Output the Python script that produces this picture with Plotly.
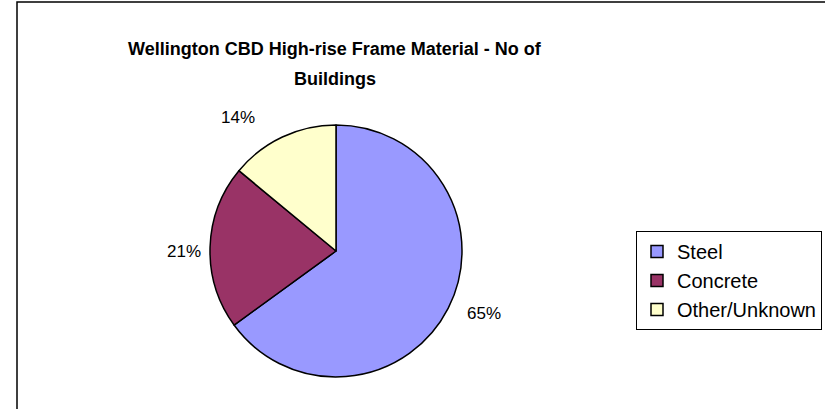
import math
import plotly.graph_objects as go

# Data
categories = ["Steel", "Concrete", "Other/Unknown"]
shares = [65, 21, 14]
colors = ["#9999FF", "#993366", "#FFFFCC"]
title_lines = ["Wellington CBD High-rise Frame Material - No of", "Buildings"]

W, H = 825, 409
cx, cy, r = 336, 251, 126  # pixel centre / radius of the pie
FONT = "Liberation Sans, Arial, sans-serif"

# label placement style (angle nudge in degrees, gap from the rim in px)
LABEL_NUDGE = [-4, -2, -11]
LABEL_GAP = [16, 9, 24]

fig = go.Figure()
fig.add_trace(go.Pie(
    labels=categories,
    values=shares,
    marker=dict(colors=colors, line=dict(color="#000000", width=1.5)),
    sort=False,
    direction="clockwise",
    rotation=0,
    textinfo="none",
    hoverinfo="label+percent",
    domain=dict(x=[(cx - r) / W, (cx + r) / W],
                y=[(H - cy - r) / H, (H - cy + r) / H]),
))

# percentage labels placed outside each slice near its mid angle
lab_fs = 17
total = sum(shares)
cum = 0
for v, nudge, gap in zip(shares, LABEL_NUDGE, LABEL_GAP):
    mid = (cum + v / 2) / total * 2 * math.pi + math.radians(nudge)
    cum += v
    s, c = math.sin(mid), math.cos(mid)
    txt = f"{round(v / total * 100)}%"
    w_txt, h_txt = 2.0 * lab_fs, 0.8 * lab_fs
    dist = r + gap + abs(s) * w_txt / 2 + abs(c) * h_txt / 2
    px = cx + dist * s
    py = cy - dist * c
    fig.add_annotation(
        x=px / W, y=1 - py / H, xref="paper", yref="paper",
        text=txt, showarrow=False,
        font=dict(family=FONT, size=lab_fs, color="#000000"),
        xanchor="center", yanchor="middle",
    )

# title (two lines)
for line, ty in zip(title_lines, [49, 79]):
    fig.add_annotation(
        x=335 / W, y=1 - ty / H, xref="paper", yref="paper",
        text=f"<b>{line}</b>", showarrow=False,
        font=dict(family=FONT, size=18, color="#000000"),
        xanchor="center", yanchor="middle", align="center",
    )

# chart-area border
fig.add_shape(type="rect", xref="paper", yref="paper",
              x0=17 / W, x1=1.05, y0=-0.05, y1=1 - 2 / H,
              line=dict(color="#000000", width=1.5))

fig.update_layout(
    width=W, height=H,
    margin=dict(l=0, r=0, t=0, b=0),
    paper_bgcolor="#FFFFFF",
    plot_bgcolor="#FFFFFF",
    showlegend=True,
    legend=dict(
        x=636 / W, y=1 - 231 / H, xanchor="left", yanchor="top",
        bordercolor="#000000", borderwidth=1, bgcolor="#FFFFFF",
        font=dict(family=FONT, size=20, color="#000000"),
        traceorder="normal", itemwidth=30,
    ),
)

fig.write_html("out.html",
               config={"displayModeBar": False},
               post_script="document.body.style.margin='0px';")
